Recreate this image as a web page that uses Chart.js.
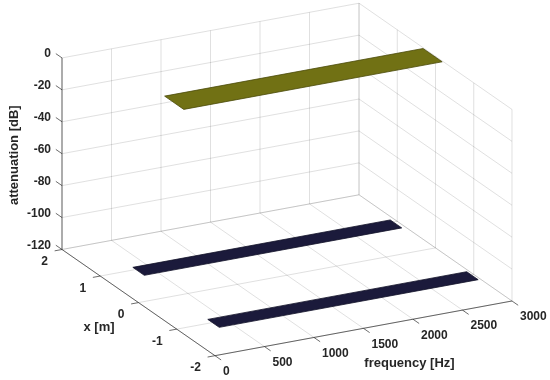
<!DOCTYPE html>
<html><head><meta charset="utf-8">
<script src="https://cdn.jsdelivr.net/npm/chart.js@4.4.1/dist/chart.umd.min.js"></script>
<style>html,body{margin:0;padding:0;background:#fff}#wrap{width:550px;height:380px;position:relative}</style>
</head><body><div id="wrap"><canvas id="c"></canvas></div>
<script>
// ---------------- data ----------------
const freqTicks = [0, 500, 1000, 1500, 2000, 2500, 3000];   // frequency [Hz]
const posTicks  = [-2, -1, 0, 1, 2];                         // x [m]
const attTicks  = [-120, -100, -80, -60, -40, -20, 0];       // attenuation [dB]

// three flat strips of the surface (far, centre, near)
const stripFreqStart = [360, 380, 360];      // Hz
const stripFreqEnd   = [2960, 2990, 2975];   // Hz
const stripPosLow    = [0.78, -0.20, -1.18]; // m
const stripPosHigh   = [1.08, 0.30, -0.88];  // m
const stripAtten     = [-120, 0, -120];      // dB

// ---------------- view / style ----------------
const W = 550, H = 380;
const VIEW = {az: 27.25, el: 20.95, zAspect: 0.614, px: 334.1, cx: 287, cy: 179.45};
const GRID_COLOR = 'rgba(38,38,38,0.14)';
const AXIS_COLOR = 'rgba(38,38,38,0.85)';
const TEXT_COLOR = '#262626';
const HIGH_FACE = '#717114', HIGH_EDGE = '#4a4a0a';
const LOW_FACE = '#1b1a3b', LOW_EDGE = '#111128';

const fMin = freqTicks[0], fMax = freqTicks[freqTicks.length - 1];
const pMin = posTicks[0], pMax = posTicks[posTicks.length - 1];
const aMin = attTicks[0], aMax = attTicks[attTicks.length - 1];
const rad = Math.PI / 180;
const ca = Math.cos(VIEW.az * rad), sa = Math.sin(VIEW.az * rad);
const se = Math.sin(VIEW.el * rad), ce = Math.cos(VIEW.el * rad);

function proj(f, p, a) {
  const X = (f - fMin) / (fMax - fMin) - 0.5;
  const Y = (p - pMin) / (pMax - pMin) - 0.5;
  const Z = ((a - aMin) / (aMax - aMin) - 0.5) * VIEW.zAspect;
  return {x: X * ca - Y * sa, y: X * sa * se + Y * ca * se + Z * ce};
}
function tickEnd(start, dirPt, lenPx) {
  const a = proj(...start), b = proj(...dirPt);
  const dx = b.x - a.x, dy = b.y - a.y, n = Math.hypot(dx, dy);
  const L = lenPx / VIEW.px;
  return [a, {x: a.x + dx / n * L, y: a.y + dy / n * L}];
}

const datasets = [];
function seg(pts, color, width, order) {
  datasets.push({data: pts, showLine: true, borderColor: color, borderWidth: width,
    pointRadius: 0, fill: false, tension: 0, order: order, clip: false});
}
// grid: floor
freqTicks.forEach(f => seg([proj(f, pMin, aMin), proj(f, pMax, aMin)], GRID_COLOR, 1, 5));
posTicks.forEach(p => seg([proj(fMin, p, aMin), proj(fMax, p, aMin)], GRID_COLOR, 1, 5));
// grid: back wall (x = max)
freqTicks.forEach(f => seg([proj(f, pMax, aMin), proj(f, pMax, aMax)], GRID_COLOR, 1, 5));
attTicks.forEach(a => seg([proj(fMin, pMax, a), proj(fMax, pMax, a)], GRID_COLOR, 1, 5));
// grid: side wall (frequency = max)
posTicks.forEach(p => seg([proj(fMax, p, aMin), proj(fMax, p, aMax)], GRID_COLOR, 1, 5));
attTicks.forEach(a => seg([proj(fMax, pMin, a), proj(fMax, pMax, a)], GRID_COLOR, 1, 5));
// axes
seg([proj(fMin, pMin, aMin), proj(fMax, pMin, aMin)], AXIS_COLOR, 0.8, 4);
seg([proj(fMin, pMin, aMin), proj(fMin, pMax, aMin)], AXIS_COLOR, 0.8, 4);
seg([proj(fMin, pMax, aMin), proj(fMin, pMax, aMax)], AXIS_COLOR, 0.8, 4);
// tick marks
const TICK = 7.5;
freqTicks.forEach(f => seg(tickEnd([f, pMin, aMin], [f, pMin - 1, aMin], TICK), AXIS_COLOR, 0.8, 4));
posTicks.forEach(p => seg(tickEnd([fMin, p, aMin], [fMin - 1000, p, aMin], TICK), AXIS_COLOR, 0.8, 4));
attTicks.forEach(a => seg(tickEnd([fMin, pMax, a], [fMin, pMax + 1, a], TICK), AXIS_COLOR, 0.8, 4));
// surface strips
stripAtten.forEach((a, i) => {
  const f0 = stripFreqStart[i], f1 = stripFreqEnd[i], p0 = stripPosLow[i], p1 = stripPosHigh[i];
  const high = a > (aMin + aMax) / 2;
  datasets.push({
    data: [proj(f0, p0, a), proj(f1, p0, a), proj(f1, p1, a), proj(f0, p1, a), proj(f0, p0, a)],
    showLine: true, fill: 'shape', tension: 0, pointRadius: 0, clip: false, order: 1,
    backgroundColor: high ? HIGH_FACE : LOW_FACE, borderColor: high ? HIGH_EDGE : LOW_EDGE, borderWidth: 0.8
  });
});

const labelsPlugin = {
  id: 'labels3d',
  afterDatasetsDraw(chart) {
    const ctx = chart.ctx, sx = chart.scales.x, sy = chart.scales.y;
    const pix = (pt) => ({x: sx.getPixelForValue(pt.x), y: sy.getPixelForValue(pt.y)});
    ctx.save();
    ctx.fillStyle = TEXT_COLOR;
    ctx.textBaseline = 'middle';
    ctx.font = 'bold 12px "Liberation Sans", Arial, sans-serif';
    ctx.textAlign = 'left';
    freqTicks.forEach(f => { const q = pix(proj(f, pMin, aMin)); ctx.fillText(String(f), q.x + 8, q.y + 16); });
    ctx.textAlign = 'right';
    posTicks.forEach(p => { const q = pix(proj(fMin, p, aMin)); ctx.fillText(String(p), q.x - 14, q.y + 12.5); });
    attTicks.forEach(a => { const q = pix(proj(fMin, pMax, a)); ctx.fillText(String(a), q.x - 11, q.y - 4); });
    ctx.font = 'bold 13px "Liberation Sans", Arial, sans-serif';
    ctx.textAlign = 'center';
    let q = pix(proj((fMin + fMax) / 2, pMin, aMin));
    ctx.fillText('frequency [Hz]', q.x + 46, q.y + 35);
    q = pix(proj(fMin, (pMin + pMax) / 2, aMin));
    ctx.fillText('x [m]', q.x - 39.5, q.y + 25);
    q = pix(proj(fMin, pMax, (aMin + aMax) / 2));
    ctx.translate(q.x - 48, q.y + 1.5);
    ctx.rotate(-Math.PI / 2);
    ctx.fillText('attenuation [dB]', 0, 0);
    ctx.restore();
  }
};

new Chart(document.getElementById('c'), {
  type: 'line',
  data: {datasets},
  options: {
    responsive: true, maintainAspectRatio: false, animation: false, events: [],
    devicePixelRatio: 1,
    layout: {padding: 0},
    plugins: {legend: {display: false}, tooltip: {enabled: false}},
    scales: {
      x: {type: 'linear', display: false, min: -VIEW.cx / VIEW.px, max: (W - VIEW.cx) / VIEW.px},
      y: {type: 'linear', display: false, min: (VIEW.cy - H) / VIEW.px, max: VIEW.cy / VIEW.px}
    }
  },
  plugins: [labelsPlugin]
});
</script></body></html>
